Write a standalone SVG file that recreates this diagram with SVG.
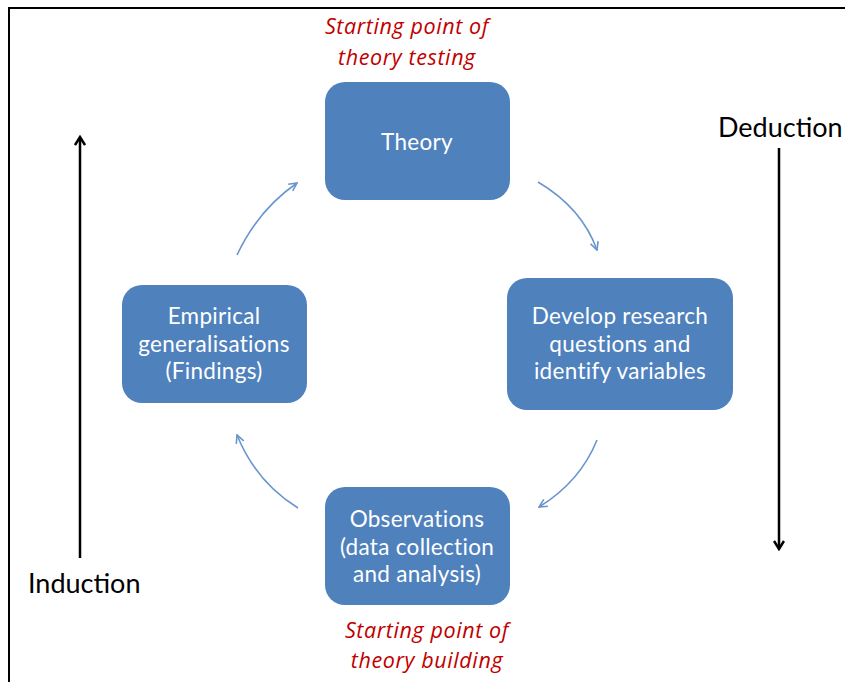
<svg xmlns="http://www.w3.org/2000/svg" width="845" height="682" viewBox="0 0 845 682">
<defs>
<style>
.box{fill:#4F81BD;}
.nt{fill:#fff;font-family:Lato,"Open Sans","Liberation Sans",sans-serif;font-size:22.5px;letter-spacing:0.3px;text-anchor:middle;}
.red{fill:#C00000;font-family:"Open Sans","Liberation Sans",sans-serif;font-style:italic;font-size:21.5px;letter-spacing:0.6px;text-anchor:middle;}
.big{fill:#000;font-family:Lato,"Open Sans","Liberation Sans",sans-serif;font-size:27px;}
.cur{fill:none;stroke:#6A96CD;stroke-width:1.6;marker-end:url(#ah);}
.blk{fill:none;stroke:#000;stroke-width:2.5;marker-end:url(#bh);}
</style>
<marker id="ah" viewBox="0 0 10 10" refX="9" refY="5" markerWidth="10" markerHeight="10" markerUnits="userSpaceOnUse" orient="auto">
<path d="M1,1 L9,5 L1,9" fill="none" stroke="#6A96CD" stroke-width="1.6"/>
</marker>
<marker id="bh" viewBox="0 0 12 12" refX="10" refY="6" markerWidth="12" markerHeight="12" markerUnits="userSpaceOnUse" orient="auto">
<path d="M2,1 L10,6 L2,11" fill="none" stroke="#000" stroke-width="2.5"/>
</marker>
</defs>
<rect width="845" height="682" fill="#fff"/>
<path d="M9,682 V8 H845" fill="none" stroke="#000" stroke-width="2"/>
<g id="label-testing">
<text class="red" x="407" y="34">Starting  point  of</text>
<text class="red" x="407" y="65">theory  testing</text>
</g>
<g id="label-building">
<text class="red" x="427" y="638">Starting  point  of</text>
<text class="red" x="427" y="668">theory  building</text>
</g>
<g id="theory">
<rect class="box" x="325" y="82" width="185" height="118" rx="20"/>
<text class="nt" x="417" y="150">Theory</text>
</g>
<g id="develop">
<rect class="box" x="507" y="278" width="226" height="132" rx="20"/>
<text class="nt" x="620" y="324">Develop research</text>
<text class="nt" x="620" y="352">questions and</text>
<text class="nt" x="620" y="379">identify variables</text>
</g>
<g id="observations">
<rect class="box" x="325" y="487" width="185" height="118" rx="20"/>
<text class="nt" x="417" y="527">Observations</text>
<text class="nt" x="417" y="555">(data collection</text>
<text class="nt" x="417" y="582">and analysis)</text>
</g>
<g id="empirical">
<rect class="box" x="122" y="285" width="185" height="118" rx="20"/>
<text class="nt" x="214" y="324">Empirical</text>
<text class="nt" x="214" y="352">generalisations</text>
<text class="nt" x="214" y="379">(Findings)</text>
</g>
<g id="deduction">
<text class="big" x="718" y="137">Deduction</text>
</g>
<g id="induction">
<text class="big" x="28" y="593">Induction</text>
</g>
<g id="connectors">
<path class="cur" d="M237,255 Q258,210 297,183"/>
<path class="cur" d="M538,182 Q582,208 597,250"/>
<path class="cur" d="M597,440 Q580,482 539,507"/>
<path class="cur" d="M298,508 Q256,482 237,435"/>
<path class="blk" d="M779,148 V549"/>
<path class="blk" d="M80,558 V137"/>
</g>
</svg>
